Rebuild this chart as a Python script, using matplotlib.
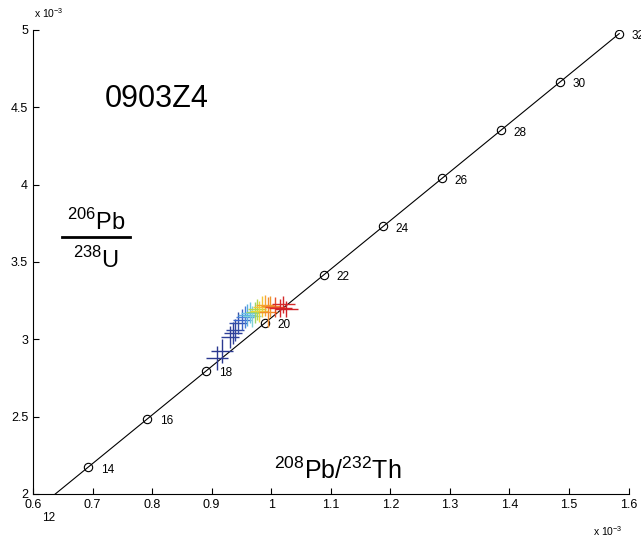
import numpy as np
import matplotlib.pyplot as plt
from matplotlib.lines import Line2D

plt.rcParams['font.family'] = ['Liberation Sans', 'DejaVu Sans']
plt.rcParams['mathtext.fontset'] = 'custom'
plt.rcParams['mathtext.rm'] = 'Liberation Sans'

# concordia ages (Ma) and ratios (x 1e-3)
ages = [12, 14, 16, 18, 20, 22, 24, 26, 28, 30, 32]
conc_x = [0.5939, 0.6929, 0.7919, 0.8910, 0.9900, 1.0890, 1.1881, 1.2872, 1.3863, 1.4854, 1.5845]
conc_y = [1.8632, 2.1741, 2.4851, 2.7962, 3.1073, 3.4186, 3.7299, 4.0414, 4.3530, 4.6646, 4.9763]

# spot analyses 208Pb/232Th, 206Pb/238U (x 1e-3) with half errors
spot_x = [0.9092, 0.9176, 0.9311, 0.9361, 0.9395, 0.9445, 0.9513, 0.9563, 0.9597, 0.9647, 0.9681,
          0.9731, 0.9765, 0.9798, 0.9849, 0.9899, 0.9950, 0.9983, 1.0067, 1.0151, 1.0202, 1.0252]
spot_y = [2.879, 2.924, 3.015, 3.041, 3.060, 3.105, 3.125, 3.144, 3.157, 3.170, 3.150,
          3.176, 3.195, 3.180, 3.210, 3.220, 3.176, 3.215, 3.209, 3.202, 3.225, 3.196]
err_x = [0.019, 0.019, 0.015, 0.015, 0.015, 0.015, 0.015, 0.015, 0.015, 0.015, 0.015,
         0.015, 0.015, 0.015, 0.015, 0.015, 0.015, 0.016, 0.017, 0.019, 0.019, 0.019]
err_y = [0.080, 0.080, 0.072, 0.072, 0.070, 0.070, 0.068, 0.068, 0.068, 0.068, 0.068,
         0.068, 0.068, 0.068, 0.068, 0.068, 0.095, 0.068, 0.062, 0.058, 0.058, 0.052]
spot_colors = ['#2b3990', '#2b3990', '#2e3f98', '#2e3f98', '#31479f', '#334fa8',
               '#3a63c8', '#4a7fd9', '#5aaee0', '#6ac4e8', '#7fd3d6',
               '#9dd36a', '#b5d84a', '#e8d83a', '#f6c634', '#f7a531',
               '#f28a2b', '#f0952e', '#e8502a', '#d8262a', '#d42a2a', '#cf2027']

xticks = [0.6, 0.7, 0.8, 0.9, 1.0, 1.1, 1.2, 1.3, 1.4, 1.5, 1.6]
xticklabels = ['0.6', '0.7', '0.8', '0.9', '1', '1.1', '1.2', '1.3', '1.4', '1.5', '1.6']
yticks = [2, 2.5, 3, 3.5, 4, 4.5, 5]
yticklabels = ['2', '2.5', '3', '3.5', '4', '4.5', '5']

fig = plt.figure(figsize=(6.41, 5.44), dpi=100)
ax = fig.add_axes([0.0515, 0.092, 0.929, 0.853])

ax.plot(conc_x, conc_y, color='black', lw=0.8)
ax.plot(conc_x, conc_y, 'o', mfc='none', mec='black', ms=6, mew=0.8)
for a, cx, cy in zip(ages, conc_x, conc_y):
    ax.annotate(str(a), (cx, cy), xytext=(9, -4), textcoords='offset points',
                fontsize=8.5, annotation_clip=False)

for i in range(len(spot_x)):
    ax.errorbar(spot_x[i], spot_y[i], xerr=err_x[i], yerr=err_y[i], fmt='none',
                ecolor=spot_colors[i], elinewidth=1.0, capsize=0)

ax.set_xlim(0.6, 1.6)
ax.set_ylim(2, 5)
ax.set_xticks(xticks)
ax.set_xticklabels(xticklabels)
ax.set_yticks(yticks)
ax.set_yticklabels(yticklabels)
ax.tick_params(direction='in', length=4, width=0.8, labelsize=9)
for s in ['top', 'right']:
    ax.spines[s].set_visible(False)
for s in ['left', 'bottom']:
    ax.spines[s].set_linewidth(0.8)

fig.text(0.053, 0.966, r'x 10$^{-3}$', fontsize=7.5)
fig.text(0.925, 0.015, r'x 10$^{-3}$', fontsize=7.5)

fig.text(0.163, 0.803, '0903Z4', fontsize=22)
fig.text(0.527, 0.12, r'$^{208}$Pb/$^{232}$Th', fontsize=18, ha='center')
fig.text(0.15, 0.578, r'$^{206}$Pb', fontsize=17, ha='center')
fig.text(0.15, 0.508, r'$^{238}$U', fontsize=17, ha='center')
fig.add_artist(Line2D([0.097, 0.203], [0.564, 0.564], color='black', lw=2.0,
                      transform=fig.transFigure))

fig.savefig('out.png', dpi=100)
